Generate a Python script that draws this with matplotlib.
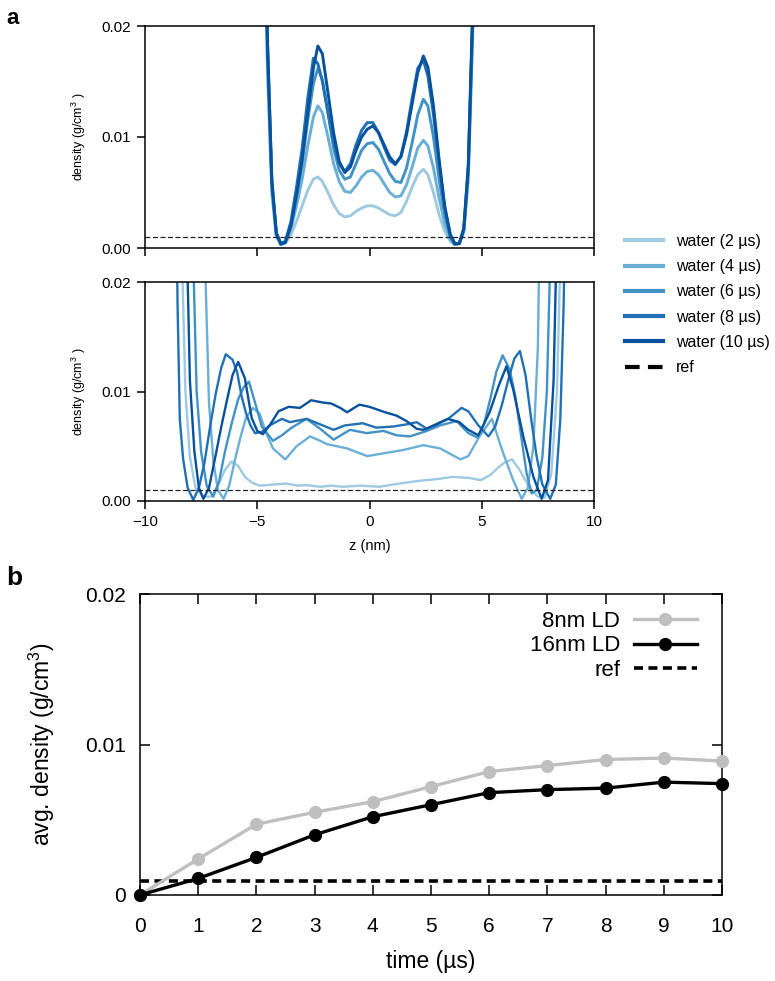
import matplotlib
matplotlib.use('Agg')
import matplotlib.pyplot as plt
from matplotlib.lines import Line2D

plt.rcParams['font.family'] = ['Liberation Sans', 'DejaVu Sans']
plt.rcParams['mathtext.fontset'] = 'custom'
plt.rcParams['mathtext.rm'] = 'Liberation Sans'
plt.rcParams['mathtext.it'] = 'Liberation Sans:italic'
plt.rcParams['mathtext.bf'] = 'Liberation Sans:bold'

# ---------------- panel a, top: 8 nm LD profiles ----------------
zA = [-5.0, -4.75, -4.55, -4.35, -4.15, -3.95, -3.75, -3.5, -3.25, -3.0, -2.75, -2.5, -2.3, -2.1,
      -1.85, -1.6, -1.35, -1.1, -0.85, -0.6, -0.35, -0.1, 0.15, 0.4, 0.65, 0.9, 1.15, 1.4, 1.65,
      1.9, 2.15, 2.4, 2.6, 2.85, 3.1, 3.35, 3.6, 3.8, 4.0, 4.2, 4.4, 4.6, 4.8, 5.0]
top_2us = [0.3, 0.04, 0.016, 0.0048, 0.0010, 0.0003, 0.0004, 0.0012, 0.0024, 0.0038, 0.0052, 0.0062,
           0.0064, 0.0060, 0.0050, 0.0039, 0.0031, 0.0028, 0.0029, 0.0033, 0.0036, 0.0038, 0.0038,
           0.0036, 0.0033, 0.0030, 0.0029, 0.0032, 0.0042, 0.0055, 0.0066, 0.0071, 0.0066, 0.0050,
           0.0030, 0.0015, 0.0006, 0.0003, 0.0004, 0.0014, 0.0060, 0.019, 0.055, 0.3]
top_4us = [0.3, 0.042, 0.017, 0.0052, 0.0011, 0.0003, 0.0005, 0.0017, 0.0038, 0.0062, 0.0092, 0.0118,
           0.0128, 0.0122, 0.0100, 0.0076, 0.0060, 0.0051, 0.0050, 0.0056, 0.0064, 0.0069, 0.0070,
           0.0066, 0.0058, 0.0050, 0.0046, 0.0047, 0.0057, 0.0073, 0.0090, 0.0097, 0.0092, 0.0072,
           0.0045, 0.0022, 0.0008, 0.0003, 0.0004, 0.0015, 0.0065, 0.020, 0.055, 0.3]
top_6us = [0.3, 0.045, 0.018, 0.0058, 0.0013, 0.0003, 0.0005, 0.0020, 0.0046, 0.0076, 0.0115, 0.0148,
           0.0162, 0.0152, 0.0122, 0.0090, 0.0070, 0.0062, 0.0064, 0.0076, 0.0088, 0.0094, 0.0095,
           0.0089, 0.0078, 0.0067, 0.0060, 0.0059, 0.0072, 0.0095, 0.0120, 0.0134, 0.0128, 0.0100,
           0.0062, 0.0030, 0.0010, 0.0003, 0.0004, 0.0016, 0.0070, 0.021, 0.06, 0.3]
top_8us = [0.3, 0.045, 0.019, 0.0062, 0.0014, 0.0004, 0.0006, 0.0024, 0.0055, 0.0090, 0.0135, 0.0171,
           0.0166, 0.0150, 0.0122, 0.0095, 0.0076, 0.0069, 0.0076, 0.0093, 0.0106, 0.0113, 0.0113,
           0.0104, 0.0091, 0.0079, 0.0075, 0.0083, 0.0105, 0.0135, 0.0162, 0.0169, 0.0155, 0.0120,
           0.0076, 0.0036, 0.0012, 0.0004, 0.0004, 0.0017, 0.0072, 0.021, 0.06, 0.3]
top_10us = [0.3, 0.045, 0.019, 0.0060, 0.0013, 0.0004, 0.0005, 0.0020, 0.0048, 0.0080, 0.0122, 0.0162,
            0.0182, 0.0175, 0.0140, 0.0104, 0.0078, 0.0068, 0.0073, 0.0088, 0.0100, 0.0107, 0.0110,
            0.0104, 0.0093, 0.0082, 0.0076, 0.0082, 0.0102, 0.0130, 0.0158, 0.0173, 0.0163, 0.0128,
            0.0080, 0.0038, 0.0012, 0.0004, 0.0004, 0.0018, 0.0075, 0.022, 0.06, 0.3]

# ---------------- panel a, bottom: 16 nm LD profiles ----------------
z_b2 = [-9.0, -8.6, -8.35, -8.2, -8.0, -7.75, -7.4, -7.05, -6.75, -6.45, -6.15, -5.85, -5.55, -5.25,
        -4.9, -4.3, -3.7, -3.2, -2.8, -2.2, -1.7, -1.2, -0.4, 0.45, 1.35, 2.25, 3.0, 3.7, 4.45, 4.95,
        5.4, 5.7, 6.0, 6.35, 6.7, 7.15, 7.5, 7.8, 8.1, 8.35, 8.5, 8.7, 9.2]
d_b2 = [0.5, 0.08, 0.022, 0.010, 0.004, 0.0012, 0.0004, 0.0004, 0.0014, 0.0028, 0.0036, 0.0032, 0.0022,
        0.0017, 0.0014, 0.0015, 0.0016, 0.0014, 0.00145, 0.0013, 0.0014, 0.0013, 0.0014, 0.0013, 0.0016,
        0.00185, 0.0020, 0.0022, 0.0021, 0.0019, 0.0024, 0.0030, 0.0035, 0.0038, 0.0028, 0.0011, 0.0004,
        0.0003, 0.0025, 0.010, 0.022, 0.08, 0.5]
z_b4 = [-8.0, -7.4, -7.3, -7.15, -6.95, -6.75, -6.5, -6.25, -6.0, -5.75, -5.5, -5.2, -4.9, -4.6, -4.3,
        -3.75, -3.25, -2.65, -2.2, -1.9, -1.0, -0.1, 0.75, 1.35, 1.8, 2.4, 3.15, 3.6, 4.05, 4.4, 4.9,
        5.45, 5.95, 6.4, 6.78, 7.05, 7.3, 7.5, 7.65, 8.2]
d_b4 = [0.5, 0.04, 0.02, 0.009, 0.0035, 0.0010, 0.0002, 0.0014, 0.0037, 0.0058, 0.0076, 0.0085, 0.0080,
        0.0062, 0.0048, 0.0038, 0.0050, 0.0059, 0.0055, 0.0052, 0.0048, 0.0041, 0.0044, 0.0046, 0.0048,
        0.0051, 0.0048, 0.0043, 0.0038, 0.0041, 0.0059, 0.0075, 0.0044, 0.0019, 0.0002, 0.0012, 0.0050,
        0.014, 0.035, 0.5]
z_b6 = [-8.6, -8.0, -7.85, -7.7, -7.5, -7.25, -6.96, -6.7, -6.45, -6.15, -5.85, -5.6, -5.37, -5.1, -4.8,
        -4.3, -3.9, -3.47, -2.8, -2.2, -1.6, -0.87, -0.13, 0.62, 1.21, 1.8, 2.55, 3.14, 3.88, 4.4, 4.8,
        5.1, 5.4, 5.65, 5.93, 6.25, 6.5, 6.75, 7.0, 7.22, 7.45, 7.7, 7.9, 8.05, 8.6]
d_b6 = [0.5, 0.05, 0.022, 0.010, 0.0045, 0.0014, 0.0004, 0.0018, 0.0044, 0.0070, 0.0093, 0.0104, 0.0109,
        0.0090, 0.0068, 0.0055, 0.0060, 0.0067, 0.0075, 0.0066, 0.0056, 0.0065, 0.0062, 0.0064, 0.0060,
        0.0059, 0.0064, 0.0069, 0.0073, 0.0062, 0.0058, 0.0070, 0.0095, 0.0118, 0.0133, 0.0120, 0.0095,
        0.0060, 0.0025, 0.0007, 0.0010, 0.0040, 0.010, 0.022, 0.5]
z_b8 = [-9.2, -8.7, -8.55, -8.45, -8.3, -8.1, -7.85, -7.6, -7.35, -7.1, -6.85, -6.6, -6.4, -6.1, -5.9,
        -5.7, -5.5, -5.3, -5.1, -4.8, -4.45, -3.9, -3.55, -2.8, -2.2, -1.6, -1.1, -0.3, 0.3, 1.05, 1.65,
        2.1, 2.55, 3.15, 3.5, 4.1, 4.4, 4.85, 5.3, 5.6, 5.9, 6.2, 6.45, 6.7, 6.95, 7.2, 7.45, 7.7, 8.05,
        8.3, 8.5, 8.65, 8.8, 9.3]
d_b8 = [0.5, 0.045, 0.018, 0.0075, 0.0038, 0.0012, 0.0001, 0.0012, 0.0035, 0.0068, 0.0098, 0.0122, 0.0134,
        0.0129, 0.0118, 0.0096, 0.0080, 0.0069, 0.0062, 0.0063, 0.0069, 0.0075, 0.0072, 0.0075, 0.0070,
        0.0065, 0.0069, 0.0071, 0.0067, 0.0068, 0.0070, 0.0072, 0.0066, 0.0072, 0.0075, 0.0085, 0.0082,
        0.0069, 0.0059, 0.0068, 0.0088, 0.0112, 0.0130, 0.0137, 0.0115, 0.0075, 0.0040, 0.0015, 0.0002,
        0.0015, 0.0075, 0.018, 0.04, 0.5]
z_b10 = [-9.0, -8.4, -8.15, -8.0, -7.8, -7.6, -7.4, -7.15, -6.9, -6.6, -6.35, -6.1, -5.85, -5.55, -5.25,
         -5.0, -4.75, -4.45, -4.05, -3.6, -3.1, -2.6, -2.1, -1.7, -1.3, -1.0, -0.45, 0.0, 0.7, 1.2, 1.65,
         2.1, 2.4, 3.0, 3.5, 4.0, 4.4, 4.85, 5.35, 5.75, 6.1, 6.4, 6.85, 7.3, 7.67, 7.95, 8.2, 8.35, 8.6, 9.2]
d_b10 = [0.5, 0.08, 0.025, 0.011, 0.0045, 0.0012, 0.0002, 0.0012, 0.0037, 0.0068, 0.0092, 0.0115, 0.0127,
         0.0112, 0.0076, 0.0064, 0.0061, 0.0069, 0.0082, 0.0086, 0.0085, 0.0092, 0.0090, 0.0089, 0.0085,
         0.0081, 0.0088, 0.0086, 0.0081, 0.0078, 0.0073, 0.0066, 0.0065, 0.0070, 0.0075, 0.0072, 0.0065,
         0.0060, 0.0081, 0.0105, 0.0123, 0.0102, 0.0059, 0.0022, 0.0002, 0.0019, 0.011, 0.025, 0.08, 0.5]

series_labels = ['water (2 µs)', 'water (4 µs)', 'water (6 µs)', 'water (8 µs)', 'water (10 µs)']
series_colors = ['#9ecae1', '#6baed6', '#4292c6', '#2171b5', '#08519c']
ref_a = 0.001

# ---------------- panel b ----------------
time_us = [0, 1, 2, 3, 4, 5, 6, 7, 8, 9, 10]
ld8 = [0.0, 0.0024, 0.0047, 0.0055, 0.0062, 0.0072, 0.0082, 0.0086, 0.0090, 0.0091, 0.0089]
ld16 = [0.0, 0.0011, 0.0025, 0.0040, 0.0052, 0.0060, 0.0068, 0.0070, 0.0071, 0.0075, 0.0074]
ref_b = 0.0009

fig = plt.figure(figsize=(7.75, 9.81), dpi=100)
W, H = 775.0, 981.0


def rect(l, t, r, b):
    return [l / W, 1 - b / H, (r - l) / W, (b - t) / H]


axT = fig.add_axes(rect(145, 26, 594, 248))
axM = fig.add_axes(rect(145, 282, 594, 501))
axB = fig.add_axes(rect(140, 594, 722, 895))

top_vals = [top_2us, top_4us, top_6us, top_8us, top_10us]
bot_z = [z_b2, z_b4, z_b6, z_b8, z_b10]
bot_d = [d_b2, d_b4, d_b6, d_b8, d_b10]

for vals, c in zip(top_vals, series_colors):
    axT.plot(zA, vals, color=c, lw=2.1, solid_joinstyle='round')
for zz, dd, c in zip(bot_z, bot_d, series_colors):
    axM.plot(zz, dd, color=c, lw=1.7, solid_joinstyle='round')

for ax in (axT, axM):
    ax.axhline(ref_a, color='#222222', lw=0.9, ls=(0, (4, 2)))
    ax.set_xlim(-10, 10)
    ax.set_ylim(0, 0.02)
    ax.set_xticks([-10, -5, 0, 5, 10])
    ax.set_yticks([0, 0.01, 0.02])
    ax.set_yticklabels(['0.00', '0.01', '0.02'])
    ax.tick_params(direction='out', length=6, width=1.1, labelsize=11, pad=4)
    for s in ax.spines.values():
        s.set_linewidth(1.1)
    ax.set_ylabel('density (g/cm$^{3}$ )', fontsize=9, labelpad=10)
axT.tick_params(labelbottom=False)
axM.set_xticklabels(['−10', '−5', '0', '5', '10'])
axM.set_xlabel('z (nm)', fontsize=10.5, labelpad=7)

handles = [Line2D([], [], color=c, lw=3) for c in series_colors]
handles.append(Line2D([], [], color='k', lw=3, ls=(0, (3.5, 2))))
fig.legend(handles, series_labels + ['ref'], loc='upper left',
           bbox_to_anchor=(625 / W, 1 - 234 / H), frameon=False, fontsize=11.5,
           borderpad=0, borderaxespad=0, handlelength=2.4, handletextpad=0.8,
           labelspacing=0.64)

# panel b
axB.plot(time_us, ld8, color='#bfbfbf', lw=2.4, marker='o', ms=8.5, clip_on=False, zorder=3,
         label='8nm LD')
axB.plot(time_us, ld16, color='black', lw=2.4, marker='o', ms=8.5, clip_on=False, zorder=4,
         label='16nm LD')
axB.axhline(ref_b, color='black', lw=2.6, ls=(0, (2.5, 1.5)), label='ref')
axB.set_xlim(0, 10)
axB.set_ylim(0, 0.02)
axB.set_xticks(time_us)
axB.set_yticks([0, 0.01, 0.02])
axB.set_yticklabels(['0', '0.01', '0.02'])
axB.tick_params(direction='in', length=7, width=1.1, labelsize=15, top=True, right=True)
axB.tick_params(axis='x', pad=16)
axB.tick_params(axis='y', pad=10)
for s in axB.spines.values():
    s.set_linewidth(1.1)
axB.set_xlabel('time (µs)', fontsize=16.5, labelpad=10)
axB.set_ylabel('avg. density (g/cm$^3$)', fontsize=16.5, labelpad=20)
axB.legend(loc='upper right', bbox_to_anchor=(697 / W, 1 - 611 / H), bbox_transform=fig.transFigure,
           frameon=False, fontsize=16, markerfirst=False, borderpad=0, borderaxespad=0,
           handlelength=2.85, handletextpad=0.6, labelspacing=0.15)

fig.text(6 / W, 1 - 8 / H, 'a', fontsize=16, fontweight='bold', va='top', ha='left')
fig.text(6 / W, 1 - 566 / H, 'b', fontsize=19, fontweight='bold', va='top', ha='left')

fig.savefig('out.png', dpi=100)
